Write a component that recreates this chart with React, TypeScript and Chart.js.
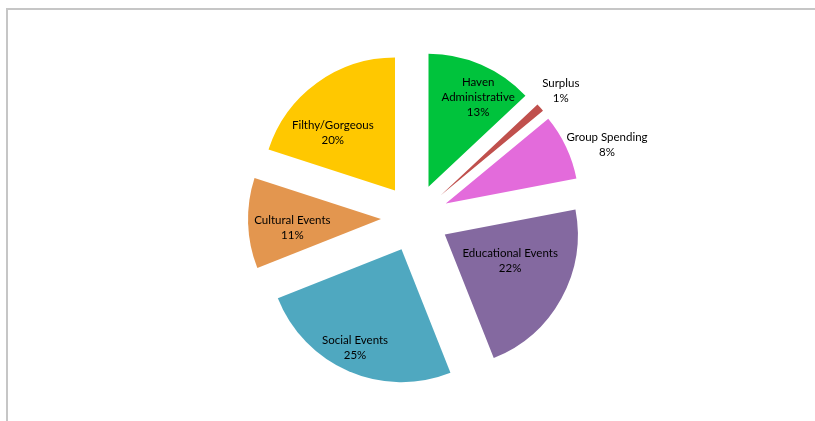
import React, { useEffect, useRef } from "react";
import { Chart, registerables } from "chart.js";

Chart.register(...registerables);

const categories = [
  ["Haven", "Administrative"],
  ["Surplus"],
  ["Group Spending"],
  ["Educational Events"],
  ["Social Events"],
  ["Cultural Events"],
  ["Filthy/Gorgeous"],
];
const values = [13, 1, 8, 22, 25, 11, 20];
const colors = ["#00C33C", "#C0504D", "#E36BDB", "#8469A0", "#4FA8C0", "#E3964F", "#FFC800"];

const EXPLODE = 34;

// label placement: [fraction of radius from slice vertex, angle nudge in degrees]
const labelLayout: [number, number][] = [
  [0.77, 5.6],
  [1.2, 0.3],
  [1.29, 5.2],
  [0.53, -6.8],
  [0.82, 1.8],
  [0.67, -4.0],
  [0.64, -11],
];

const explodePlugin = {
  id: "explode",
  beforeDatasetDraw(chart: any, args: any) {
    const ctx = chart.ctx;
    args.meta.data.forEach((arc: any) => {
      const p = arc.getProps(["startAngle", "endAngle"], true);
      const mid = (p.startAngle + p.endAngle) / 2;
      ctx.save();
      ctx.translate(EXPLODE * Math.cos(mid), EXPLODE * Math.sin(mid));
      arc.draw(ctx, chart.chartArea);
      ctx.restore();
    });
    return false;
  },
};

const labelPlugin = {
  id: "sliceLabels",
  afterDatasetsDraw(chart: any) {
    const ctx = chart.ctx;
    const meta = chart.getDatasetMeta(0);
    const total = values.reduce((a, b) => a + b, 0);
    ctx.save();
    ctx.font = "11.5px Lato";
    ctx.fillStyle = "#000000";
    ctx.textAlign = "center";
    ctx.textBaseline = "middle";
    meta.data.forEach((arc: any, i: number) => {
      const p = arc.getProps(["x", "y", "startAngle", "endAngle", "outerRadius"], true);
      const mid = (p.startAngle + p.endAngle) / 2;
      const vx = p.x + EXPLODE * Math.cos(mid);
      const vy = p.y + EXPLODE * Math.sin(mid);
      const [frac, nudge] = labelLayout[i];
      const a = mid + (nudge * Math.PI) / 180;
      const lx = vx + frac * p.outerRadius * Math.cos(a);
      const ly = vy + frac * p.outerRadius * Math.sin(a);
      const lines = [...categories[i], Math.round((values[i] / total) * 100) + "%"];
      const lh = 15;
      const y0 = ly - ((lines.length - 1) * lh) / 2;
      lines.forEach((t, k) => ctx.fillText(t, lx, y0 + k * lh));
    });
    ctx.restore();
  },
};

export default function App() {
  const ref = useRef<HTMLCanvasElement | null>(null);
  useEffect(() => {
    if (!ref.current) return;
    const chart = new Chart(ref.current, {
      type: "pie",
      data: {
        labels: categories.map((c) => c.join(" ")),
        datasets: [
          {
            data: values,
            backgroundColor: colors,
            borderWidth: 0,
            offset: 0,
          },
        ],
      },
      options: {
        responsive: false,
        animation: false,
        radius: 133,
        layout: { padding: { left: 15, top: 15, right: 0, bottom: 0 } },
        plugins: { legend: { display: false }, tooltip: { enabled: false } },
      },
      plugins: [explodePlugin, labelPlugin],
    } as any);
    return () => chart.destroy();
  }, []);
  return (
    <div style={{ position: "fixed", left: 0, top: 0, width: 815, height: 421, background: "#fff" }}>
      <div
        style={{
          position: "absolute",
          left: 6,
          top: 8,
          right: 0,
          bottom: 0,
          borderLeft: "2px solid #c6c6c6",
          borderTop: "2px solid #c6c6c6",
        }}
      />
      <canvas ref={ref} width={815} height={421} style={{ position: "absolute", left: 0, top: 0 }} />
    </div>
  );
}
